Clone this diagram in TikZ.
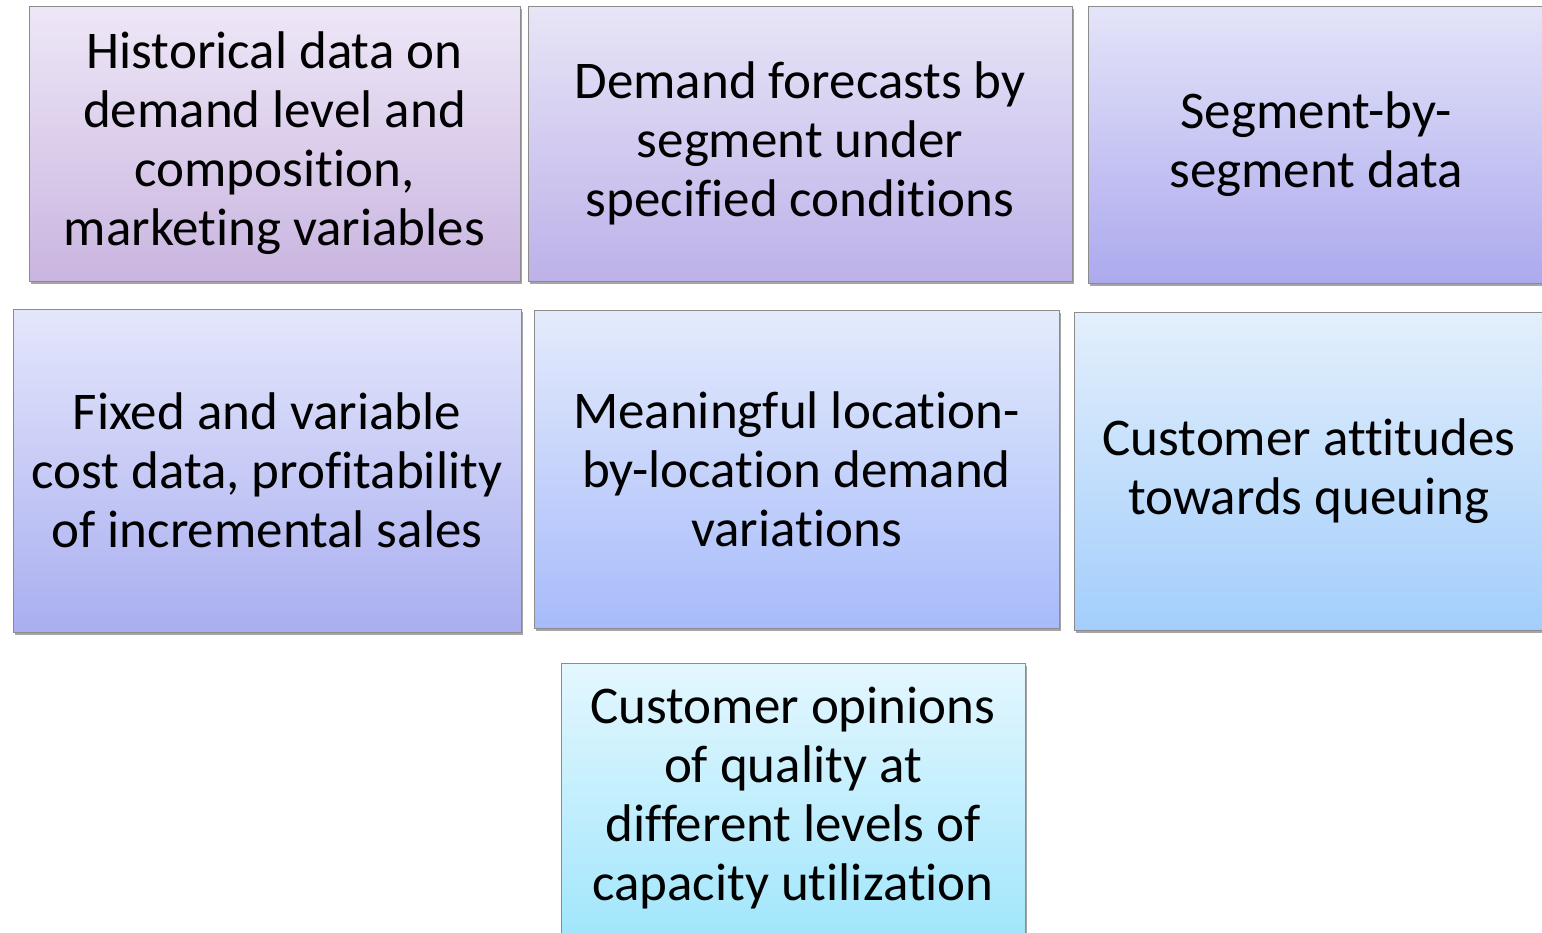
\documentclass[tikz,border=0pt]{standalone}
\usepackage{fontspec}
\setmainfont[RawFeature={-liga;-clig;-dlig;-calt}]{Carlito}
\usetikzlibrary{shadows}
\definecolor{boxline}{HTML}{8C8C8C}
\definecolor{aT}{HTML}{EEE7F7}\definecolor{aB}{HTML}{C9B5E0}
\definecolor{bT}{HTML}{E8E5F7}\definecolor{bB}{HTML}{BDB1E9}
\definecolor{cT}{HTML}{E4E4F9}\definecolor{cB}{HTML}{ACA9EE}
\definecolor{dT}{HTML}{E4E7FB}\definecolor{dB}{HTML}{A9AEF0}
\definecolor{eT}{HTML}{E4EBFC}\definecolor{eB}{HTML}{A7BBFA}
\definecolor{fT}{HTML}{E3EFFC}\definecolor{fB}{HTML}{A3CEFC}
\definecolor{gT}{HTML}{E4F7FE}\definecolor{gB}{HTML}{A2E6FC}
\tikzset{
  box/.style={rectangle, draw=boxline, line width=0.9pt, align=center, inner sep=0pt,
    font=\fontsize{53}{59}\selectfont,
    drop shadow={shadow xshift=2pt, shadow yshift=-3pt, opacity=0.5, fill=black!70}}
}
\begin{document}
\begin{tikzpicture}[x=1pt,y=-1pt]
\useasboundingbox (0,0) rectangle (1542,932);
\node[box, minimum width=491pt, minimum height=275pt, top color=aT, bottom color=aB] (a) at (274.5,143.5)
  {Historical data on\\demand level and\\composition,\\marketing variables};
\node[box, minimum width=544pt, minimum height=275pt, top color=bT, bottom color=bB] (b) at (800,143.5)
  {Demand forecasts by\\segment under\\specified conditions};
\node[box, minimum width=456pt, minimum height=277pt, top color=cT, bottom color=cB] (c) at (1316,144.5)
  {Segment-by-\\segment data};
\node[box, minimum width=508pt, minimum height=323pt, top color=dT, bottom color=dB] (d) at (267,470.5)
  {Fixed and variable\\cost data, profitability\\of incremental sales};
\node[box, minimum width=525pt, minimum height=318pt, top color=eT, bottom color=eB] (e) at (796.5,469)
  {Meaningful location-\\by-location demand\\variations};
\node[box, minimum width=470pt, minimum height=318pt, top color=fT, bottom color=fB] (f) at (1309,471)
  {Customer attitudes\\towards queuing};
\node[box, minimum width=464pt, minimum height=270pt, top color=gT, bottom color=gB] (g) at (793,798)
  {Customer opinions\\of quality at\\different levels of\\capacity utilization};
\end{tikzpicture}
\end{document}
